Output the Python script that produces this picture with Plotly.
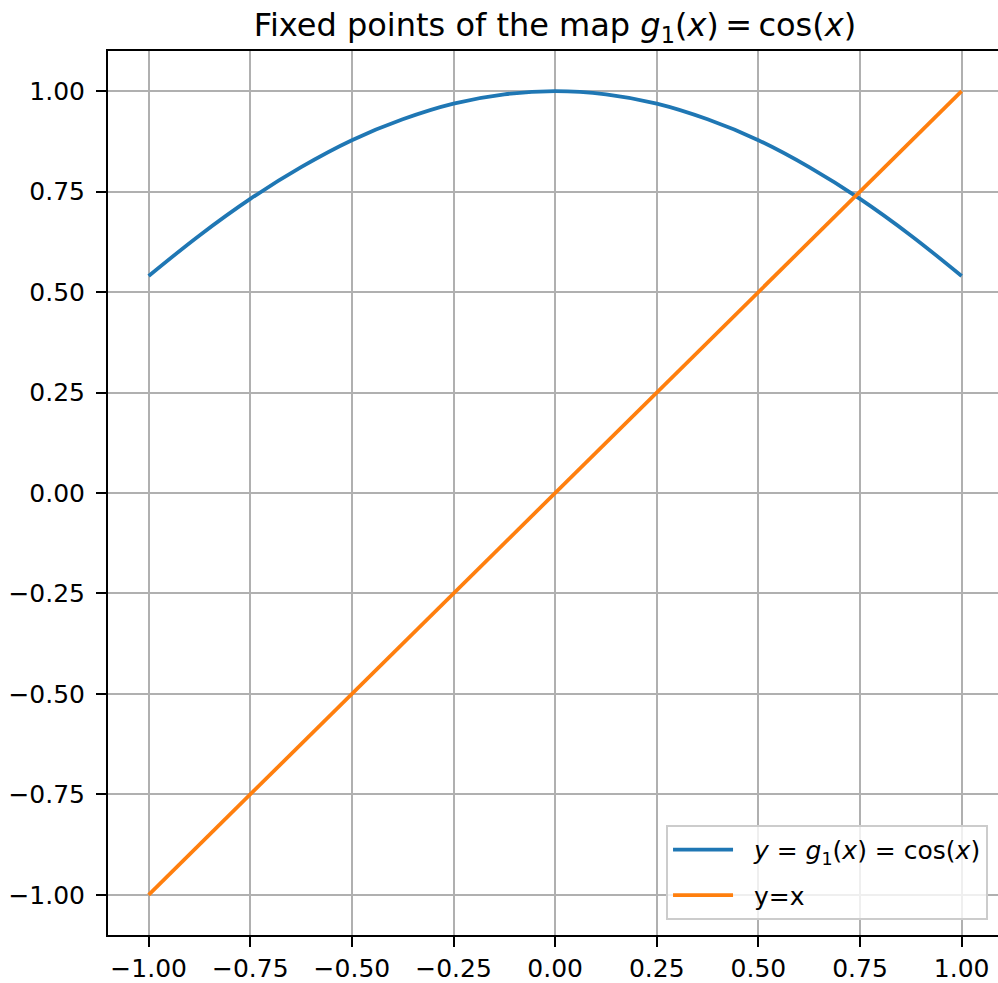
import plotly.graph_objects as go

# Sample abscissae and values of g1(x) = cos(x) on [-1, 1]
x_curve = [-1.0, -0.875, -0.75, -0.625, -0.5, -0.375, -0.25, -0.125, 0.0,
           0.125, 0.25, 0.375, 0.5, 0.625, 0.75, 0.875, 1.0]
y_curve = [0.540, 0.641, 0.732, 0.811, 0.878, 0.930, 0.969, 0.992, 1.000,
           0.992, 0.969, 0.930, 0.878, 0.811, 0.732, 0.641, 0.540]

# Identity line y = x
x_line = [-1.0, 1.0]
y_line = [-1.0, 1.0]

tick_vals = [-1.0, -0.75, -0.5, -0.25, 0.0, 0.25, 0.5, 0.75, 1.0]

FONT = "DejaVu Sans"
PAD = "\u00a0\u00a0"  # gap between legend line sample and label

fig = go.Figure()
fig.add_trace(go.Scatter(
    x=x_curve, y=y_curve, mode="lines",
    line=dict(color="#1f77b4", width=3.75, shape="spline", smoothing=1.0),
    name=PAD + "<i>y</i> = <i>g</i><sub>1</sub>(<i>x</i>) = cos(<i>x</i>)",
    legendgroup="a",
))
fig.add_trace(go.Scatter(
    x=x_line, y=y_line, mode="lines",
    line=dict(color="#ff7f0e", width=3.75),
    name=PAD + "y=x",
    legendgroup="b",
))

axis_common = dict(
    showgrid=True, gridcolor="#b0b0b0", gridwidth=2,
    zeroline=False,
    showline=True, linecolor="black", linewidth=2,
    ticks="outside", ticklen=10, tickwidth=2, tickcolor="black",
    tickvals=tick_vals, tickformat=".2f",
    tickfont=dict(family=FONT, size=25, color="black"),
)

fig.update_layout(
    width=998, height=983,
    margin=dict(l=108, r=0, t=51, b=44),
    paper_bgcolor="white", plot_bgcolor="white",
    font=dict(family=FONT, color="black"),
    title=dict(
        text="Fixed points of the map <i>g</i><sub>1</sub>(<i>x</i>)\u2009=\u2009cos(<i>x</i>)",
        x=555 / 998, xref="container", xanchor="center",
        y=1 - 25 / 983, yref="container", yanchor="middle",
        font=dict(family=FONT, size=32, color="black"),
    ),
    xaxis=dict(range=[-1.1, 1.0895], mirror=True, **axis_common),
    yaxis=dict(range=[-1.1, 1.1], mirror=False, ticklabelstandoff=6, **axis_common),
    legend=dict(
        x=0.9888, xanchor="right", y=0.017, yanchor="bottom",
        bgcolor="rgba(255,255,255,0.8)", bordercolor="#cccccc", borderwidth=2,
        font=dict(family=FONT, size=25, color="black"),
        tracegroupgap=10, itemwidth=60,
    ),
    showlegend=True,
)

fig.write_html("out.html")
